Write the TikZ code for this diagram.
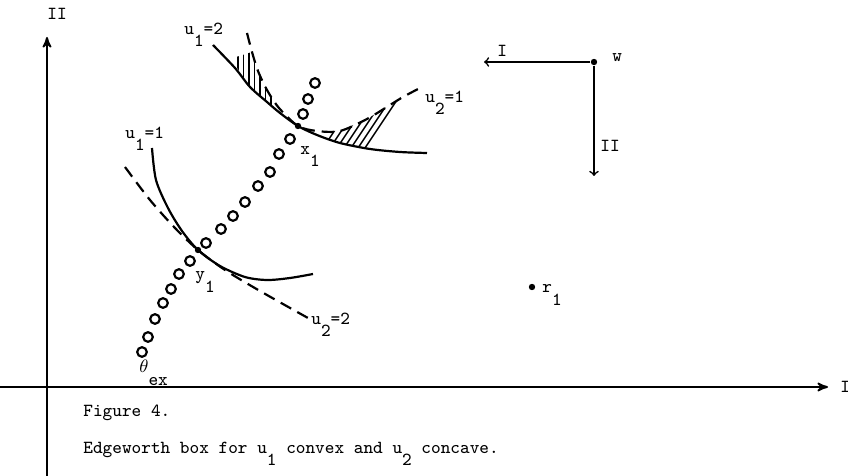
\documentclass[tikz,border=0pt]{standalone}
\usetikzlibrary{arrows}
\newcommand{\lowsub}[1]{\raisebox{-6pt}{#1}}

\begin{document}
\begin{tikzpicture}[x=0.5pt, y=-0.5pt, font=\fontsize{9.2}{11}\selectfont\ttfamily]
    \tikzstyle{lbl}       = [anchor=base west, inner sep=0pt]
    \tikzstyle{dot}       = [circle, fill=black, inner sep=0pt, minimum size=3.2pt]
    \tikzstyle{axis}      = [line width=0.9pt, ->, >=stealth']
    \tikzstyle{boxarrow}  = [line width=0.8pt, ->, >=to]
    \tikzstyle{indiff}    = [line width=1.1pt]
    \tikzstyle{dashcurve} = [line width=1.1pt, dash pattern=on 6pt off 3.5pt]
    \tikzstyle{ring}      = [line width=1.1pt]
    \tikzstyle{hatch}     = [line width=0.7pt]

    \useasboundingbox (0,0) rectangle (848,476);

    % axes of the box
    \coordinate (ybot) at (47,476);
    \coordinate (ytop) at (47,37);
    \coordinate (xbeg) at (0,387);
    \coordinate (xend) at (828,387);
    \draw [axis] (ybot) -- (ytop);
    \draw [axis] (xbeg) -- (xend);
    \node [lbl] (ylab) at (47,20) {II};
    \node [lbl] (xlab) at (840,393) {I};

    % second origin w
    \node [dot] (w) at (594,62) {};
    \coordinate (wI) at (484,62);
    \coordinate (wII) at (594,176);
    \draw [boxarrow] (w) -- (wI);
    \draw [boxarrow] (w) -- (wII);
    \node [lbl] (wlab) at (612,62) {w};
    \node [lbl] (wIlab) at (497,57) {I};
    \node [lbl] (wIIlab) at (600,152) {II};

    % endowment r1
    \node [dot] (r1) at (532,287) {};
    \node [lbl] (r1lab) at (542,293) {r\lowsub{1}};

    % hatched regions between u1=2 and u2=1
    \begin{scope}
        \clip (233,62) -- (250,87) -- (267,102) -- (285,116) -- (279,108) -- (267,90) -- (258,71) -- (252,52) -- (233,58) -- cycle;
        \foreach \x in {238,243.5,...,272}
            \draw [hatch] (\x,40) -- (\x,125);
    \end{scope}
    \begin{scope}
        \clip (298,126) -- (317,135) -- (340,143) -- (370,149) -- (403,97) -- (390,105) -- (367,119) -- (340,131) -- (317,131) -- cycle;
        \foreach \x in {321,328,...,370}
            \draw [hatch] (\x,151) -- (\x+40,91);
    \end{scope}

    % indifference curves
    \draw [indiff] plot[smooth] coordinates {(213,45) (235,68) (250,87) (267,102) (280,113) (298,126) (317,135) (340,143) (370,149) (400,152) (427,153)};
    \draw [dashcurve] plot[smooth] coordinates {(247,33) (252,52) (258,71) (267,90) (279,108) (298,126) (317,131) (340,131) (367,119) (390,105) (403,97) (418,89)};
    \draw [indiff] plot[smooth] coordinates {(152,148) (156,180) (168,208) (182,231) (198,250) (220,266) (245,277) (267,280) (290,278) (313,274)};
    \draw [dashcurve] plot[smooth] coordinates {(125,167) (150,200) (175,228) (198,250) (225,270) (260,291) (308,318)};

    % contract curve
    \foreach \x/\y in {142/352, 148/337, 155/319, 163/303, 171/289, 179/274, 190/261, 206/243, 221/229, 233/216, 245/202, 258/186, 270/172, 279/154, 290/139, 303/114, 308/99, 315/83}
        \draw [ring] (\x,\y) circle (2.4pt);

    \node [dot] (x1) at (298,126) {};
    \node [dot] (y1) at (198,250) {};

    % labels
    \node [lbl] (u12) at (184,35) {u\lowsub{1}=2};
    \node [lbl] (u21) at (425,103) {u\lowsub{2}=1};
    \node [lbl] (u11) at (125,139) {u\lowsub{1}=1};
    \node [lbl] (u22) at (311,325) {u\lowsub{2}=2};
    \node [lbl] (x1lab) at (300,155) {x\lowsub{1}};
    \node [lbl] (y1lab) at (195,280) {y\lowsub{1}};
    \node [lbl] (thlab) at (139,373) {$\theta$\lowsub{ex}};

    % caption
    \node [lbl] (fig) at (83,417) {Figure 4.};
    \node [lbl] (cap) at (83,453) {Edgeworth box for u\lowsub{1} convex and u\lowsub{2} concave.};
\end{tikzpicture}
\end{document}
